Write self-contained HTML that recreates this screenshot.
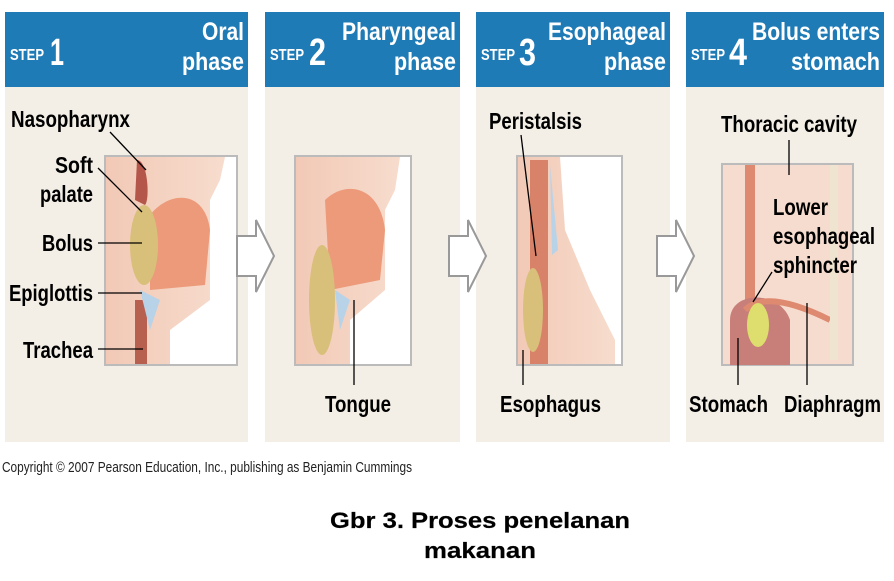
<!DOCTYPE html>
<html><head><meta charset="utf-8"><style>
body{margin:0;width:894px;height:576px;background:#fff;overflow:hidden}
svg text{font-family:"Liberation Sans",sans-serif;font-weight:bold}
</style></head><body>
<svg width="894" height="576" viewBox="0 0 894 576" xmlns="http://www.w3.org/2000/svg">
<defs>
<linearGradient id="sk" x1="0" x2="1"><stop offset="0" stop-color="#f2c9b6"/><stop offset="1" stop-color="#f7dccd"/></linearGradient>
</defs>
<g>
<rect x="5" y="12" width="243" height="430" fill="#f3efe6"/><rect x="5" y="12" width="243" height="75" fill="#1f7bb6"/>
<rect x="265" y="12" width="195" height="430" fill="#f3efe6"/><rect x="265" y="12" width="195" height="75" fill="#1f7bb6"/>
<rect x="476" y="12" width="194" height="430" fill="#f3efe6"/><rect x="476" y="12" width="194" height="75" fill="#1f7bb6"/>
<rect x="686" y="12" width="198" height="430" fill="#f3efe6"/><rect x="686" y="12" width="198" height="75" fill="#1f7bb6"/>
</g>
<g fill="#fff">
<text x="10" y="60" font-size="16" textLength="34" lengthAdjust="spacingAndGlyphs">STEP</text><text x="50" y="65" font-size="38" textLength="14" lengthAdjust="spacingAndGlyphs">1</text>
<text x="202" y="40" font-size="25" textLength="42" lengthAdjust="spacingAndGlyphs">Oral</text><text x="182" y="70" font-size="25" textLength="62" lengthAdjust="spacingAndGlyphs">phase</text>
<text x="270" y="60" font-size="16" textLength="34" lengthAdjust="spacingAndGlyphs">STEP</text><text x="309" y="65" font-size="38" textLength="17" lengthAdjust="spacingAndGlyphs">2</text>
<text x="342" y="40" font-size="25" textLength="114" lengthAdjust="spacingAndGlyphs">Pharyngeal</text><text x="394" y="70" font-size="25" textLength="62" lengthAdjust="spacingAndGlyphs">phase</text>
<text x="481" y="60" font-size="16" textLength="34" lengthAdjust="spacingAndGlyphs">STEP</text><text x="519" y="65" font-size="38" textLength="17" lengthAdjust="spacingAndGlyphs">3</text>
<text x="548" y="40" font-size="25" textLength="118" lengthAdjust="spacingAndGlyphs">Esophageal</text><text x="604" y="70" font-size="25" textLength="62" lengthAdjust="spacingAndGlyphs">phase</text>
<text x="691" y="60" font-size="16" textLength="34" lengthAdjust="spacingAndGlyphs">STEP</text><text x="729" y="65" font-size="38" textLength="18" lengthAdjust="spacingAndGlyphs">4</text>
<text x="752" y="40" font-size="25" textLength="128" lengthAdjust="spacingAndGlyphs">Bolus enters</text><text x="791" y="70" font-size="25" textLength="89" lengthAdjust="spacingAndGlyphs">stomach</text>
</g>
<g stroke="#bbb" stroke-width="2">
<rect x="105" y="156" width="132" height="209" fill="#fff"/>
<rect x="295" y="156" width="116" height="209" fill="#fff"/>
<rect x="517" y="156" width="105" height="209" fill="#fff"/>
<rect x="722" y="164" width="131" height="201" fill="#f6dccf"/>
</g>
<path d="M106 157H225L220 180L210 200V300L170 330V364H106Z" fill="url(#sk)"/>
<path d="M150 215C170 190 205 190 210 230L205 285L150 290Z" fill="#ec9a7a"/>
<ellipse cx="144" cy="245" rx="14" ry="40" fill="#d8c07a"/>
<path d="M137 160C148 160 150 200 145 205L135 200Z" fill="#b4564a"/>
<rect x="135" y="300" width="12" height="64" fill="#b8604f"/>
<path d="M140 290L160 300L150 330Z" fill="#b8d3e8"/>
<path d="M296 157H400L395 190L385 210V290L350 320V364H296Z" fill="url(#sk)"/>
<path d="M325 200C345 180 380 185 385 230L380 280L330 290Z" fill="#ec9a7a"/>
<ellipse cx="322" cy="300" rx="13" ry="55" fill="#d8c07a"/>
<path d="M335 290L350 300L340 330Z" fill="#b8d3e8"/>
<path d="M518 157H560L565 230L590 290L615 340V364H518Z" fill="url(#sk)"/>
<rect x="530" y="160" width="18" height="204" fill="#d9826a"/>
<ellipse cx="533" cy="310" rx="10" ry="42" fill="#d8c07a"/>
<path d="M550 165L558 250L552 255Z" fill="#b8d3e8"/>
<rect x="745" y="165" width="10" height="135" fill="#de8a70"/>
<path d="M730 365V320C730 290 780 290 790 320V365Z" fill="#c87f7a"/>
<path d="M745 310C760 295 790 300 830 320" stroke="#de8a70" stroke-width="6" fill="none"/>
<ellipse cx="758" cy="325" rx="11" ry="22" fill="#dede6e"/>
<rect x="830" y="165" width="8" height="195" fill="#efe4cf"/>
<g fill="#fff" stroke="#999" stroke-width="2">
<path d="M237 236H256V220L274 256L256 292V276H237Z"/>
<path d="M449 236H468V220L486 256L468 292V276H449Z"/>
<path d="M657 236H676V220L694 256L676 292V276H657Z"/>
</g>
<g stroke="#000" stroke-width="1.3" fill="#000">
<line x1="110" y1="132" x2="146" y2="170"/><line x1="98" y1="168" x2="142" y2="212"/>
<line x1="98" y1="243" x2="142" y2="243"/><line x1="98" y1="293" x2="142" y2="293"/>
<line x1="98" y1="349" x2="143" y2="349"/>
<line x1="354" y1="385" x2="354" y2="300"/>
<line x1="521" y1="135" x2="536" y2="256"/><line x1="523" y1="385" x2="523" y2="350"/>
<line x1="789" y1="140" x2="789" y2="175"/><line x1="772" y1="272" x2="753" y2="302"/>
<line x1="738" y1="385" x2="738" y2="338"/><line x1="807" y1="385" x2="807" y2="303"/>
</g>
<g fill="#000" font-size="23">
<text x="11" y="127" textLength="119" lengthAdjust="spacingAndGlyphs">Nasopharynx</text>
<text x="55" y="173" textLength="38" lengthAdjust="spacingAndGlyphs">Soft</text><text x="40" y="202" textLength="53" lengthAdjust="spacingAndGlyphs">palate</text>
<text x="42" y="251" textLength="51" lengthAdjust="spacingAndGlyphs">Bolus</text>
<text x="9" y="301" textLength="84" lengthAdjust="spacingAndGlyphs">Epiglottis</text>
<text x="23" y="358" textLength="70" lengthAdjust="spacingAndGlyphs">Trachea</text>
<text x="325" y="412" textLength="66" lengthAdjust="spacingAndGlyphs">Tongue</text>
<text x="489" y="129" textLength="93" lengthAdjust="spacingAndGlyphs">Peristalsis</text>
<text x="500" y="412" textLength="101" lengthAdjust="spacingAndGlyphs">Esophagus</text>
<text x="721" y="132" textLength="136" lengthAdjust="spacingAndGlyphs">Thoracic cavity</text>
<text x="773" y="215" textLength="55" lengthAdjust="spacingAndGlyphs">Lower</text><text x="773" y="244" textLength="102" lengthAdjust="spacingAndGlyphs">esophageal</text><text x="773" y="273" textLength="84" lengthAdjust="spacingAndGlyphs">sphincter</text>
<text x="689" y="412" textLength="79" lengthAdjust="spacingAndGlyphs">Stomach</text><text x="784" y="412" textLength="97" lengthAdjust="spacingAndGlyphs">Diaphragm</text>
</g>
<text x="2" y="472" font-size="15" style="font-weight:normal" fill="#222" textLength="410" lengthAdjust="spacingAndGlyphs">Copyright © 2007 Pearson Education, Inc., publishing as Benjamin Cummings</text>
<g font-size="22" fill="#000" style="font-weight:normal;stroke:#000;stroke-width:0.2">
<text x="330" y="528" textLength="300" lengthAdjust="spacingAndGlyphs">Gbr 3. Proses penelanan</text>
<text x="424" y="558" textLength="112" lengthAdjust="spacingAndGlyphs">makanan</text>
</g>
</svg>
</body></html>
